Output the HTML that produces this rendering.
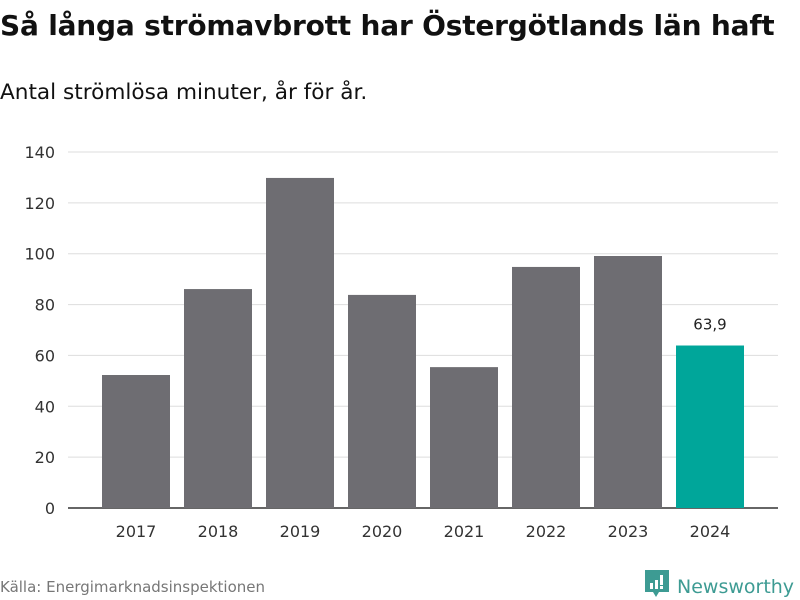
<!DOCTYPE html>
<html><head><meta charset="utf-8"><style>
body{margin:0;width:800px;height:600px;background:#fff;font-family:"DejaVu Sans","Liberation Sans",sans-serif;overflow:hidden;position:relative}
.t{position:absolute;left:0;top:9px;font-size:28px;font-weight:bold;color:#111;letter-spacing:-0.2px;white-space:nowrap}
.s{position:absolute;left:0;top:80px;font-size:21.6px;color:#111;white-space:nowrap}
.src{position:absolute;left:0;top:578px;font-size:15px;color:#777;white-space:nowrap}
.logo{position:absolute;left:645px;top:570px;font-size:19px;color:#3d9b93;font-weight:normal;white-space:nowrap}
</style></head><body>
<div class="t">Så långa strömavbrott har Östergötlands län haft</div>
<div class="s">Antal strömlösa minuter, år för år.</div>
<svg id="c" width="800" height="600" style="position:absolute;left:0;top:0"></svg>
<div class="src">Källa: Energimarknadsinspektionen</div>
<div class="logo"><svg width="24" height="28" viewBox="0 0 24 28" style="vertical-align:-5px;margin-right:8px"><path d="M0 0H24V22H14L11 27L8 22H0Z" fill="#3d9b93"/><rect x="5" y="13" width="3" height="6" fill="#fff"/><rect x="10" y="10" width="3" height="9" fill="#fff"/><rect x="15" y="5" width="3" height="10" fill="#fff"/><rect x="15" y="16" width="3" height="3" fill="#fff"/></svg>Newsworthy</div>
<script>
const categories=["2017","2018","2019","2020","2021","2022","2023","2024"];
const values=[52.3,86.1,129.8,83.8,55.4,94.8,99.1,63.9];
const yTicks=[0,20,40,60,80,100,120,140];
const highlightLabel="63,9";
const svg=document.getElementById('c');const NS="http://www.w3.org/2000/svg";
const y0=508,y1=152,ymax=140,left=95,step=82,bw=68;
const y=v=>y0-(v/ymax)*(y0-y1);
const x=i=>left+i*step+(step-bw)/2;
function mk(t,a){const e=document.createElementNS(NS,t);for(const k in a)e.setAttribute(k,a[k]);svg.appendChild(e);return e;}
yTicks.forEach(t=>{
 const g=mk('line',{x1:68,x2:778,y1:y(t),y2:y(t),stroke:t===0?'#333':'#ddd','stroke-width':t===0?1.5:1});
 
 
 const l=mk('text',{x:55,y:y(t)+6,'text-anchor':'end','font-size':16,fill:'#333','font-family':'DejaVu Sans, sans-serif'});l.textContent=t;
 
 
});
categories.forEach((c,i)=>{
 const last=i===categories.length-1;
 const r=mk('rect',{x:x(i),y:y(values[i]),width:bw,height:y0-y(values[i]),fill:last?'#00a69a':'#6e6d72'});
 
 
 const l=mk('text',{x:x(i)+bw/2,y:537,'text-anchor':'middle','font-size':16,fill:'#333','font-family':'DejaVu Sans, sans-serif'});l.textContent=c;
 
 
 if(last){const v=mk('text',{x:x(i)+bw/2,y:y(values[i])-16,'text-anchor':'middle','font-size':15,fill:'#222','font-family':'DejaVu Sans, sans-serif'});v.textContent=highlightLabel;
 
 }
});
</script>
</body></html>
